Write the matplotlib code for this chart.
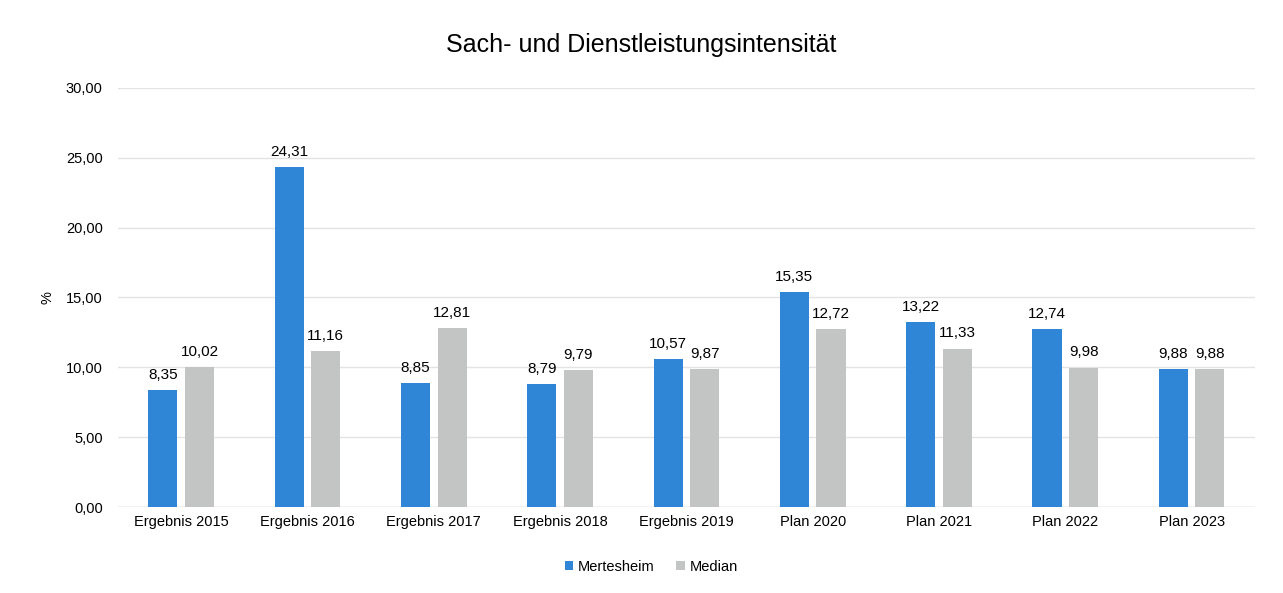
import matplotlib.pyplot as plt
import numpy as np

plt.rcParams['font.family'] = ['Liberation Sans', 'DejaVu Sans']

categories = ['Ergebnis 2015', 'Ergebnis 2016', 'Ergebnis 2017', 'Ergebnis 2018',
              'Ergebnis 2019', 'Plan 2020', 'Plan 2021', 'Plan 2022', 'Plan 2023']
mertesheim = [8.35, 24.31, 8.85, 8.79, 10.57, 15.35, 13.22, 12.74, 9.88]
median = [10.02, 11.16, 12.81, 9.79, 9.87, 12.72, 11.33, 9.98, 9.88]
yticks = [0, 5, 10, 15, 20, 25, 30]

blue = '#2f86d6'
grey = '#c3c5c5'

fig = plt.figure(figsize=(12.83, 5.93), dpi=100)
ax = fig.add_axes([0.092, 0.145, 0.886, 0.707])

x = np.arange(len(categories))
w = 0.23
off = 0.145
b1 = ax.bar(x - off, mertesheim, w, color=blue, label='Mertesheim', zorder=3)
b2 = ax.bar(x + off, median, w, color=grey, label='Median', zorder=3)

def fmt(v):
    return f'{v:.2f}'.replace('.', ',')

for bars, vals in ((b1, mertesheim), (b2, median)):
    for rect, v in zip(bars, vals):
        ax.annotate(fmt(v), (rect.get_x() + rect.get_width() / 2, v),
                    xytext=(0, 6), textcoords='offset points',
                    ha='center', va='bottom', fontsize=11)

ax.set_xlim(-0.5, len(categories) - 0.5)
ax.set_ylim(0, 30)
ax.set_yticks(yticks)
ax.set_yticklabels([fmt(t) for t in yticks], fontsize=10.5)
ax.set_xticks(x)
ax.set_xticklabels(categories, fontsize=10.5)
ax.tick_params(length=0, pad=6)
ax.tick_params(axis='y', pad=11)
ax.grid(axis='y', color='#e3e3e3', linewidth=1, zorder=0)
for s in ax.spines.values():
    s.set_visible(False)
ax.axhline(0, color='#d6d6d6', linewidth=1, zorder=2)
ax.set_ylabel('%', fontsize=10.5, labelpad=8)

fig.suptitle('Sach- und Dienstleistungsintensität', fontsize=18, y=0.924, va='center')

ax.legend(loc='upper center', bbox_to_anchor=(0.469, -0.095), ncol=2, frameon=False,
          fontsize=10.5, handlelength=0.6, handleheight=0.6, handletextpad=0.3,
          columnspacing=1.5)

fig.savefig('out.png', dpi=100, facecolor='white')
